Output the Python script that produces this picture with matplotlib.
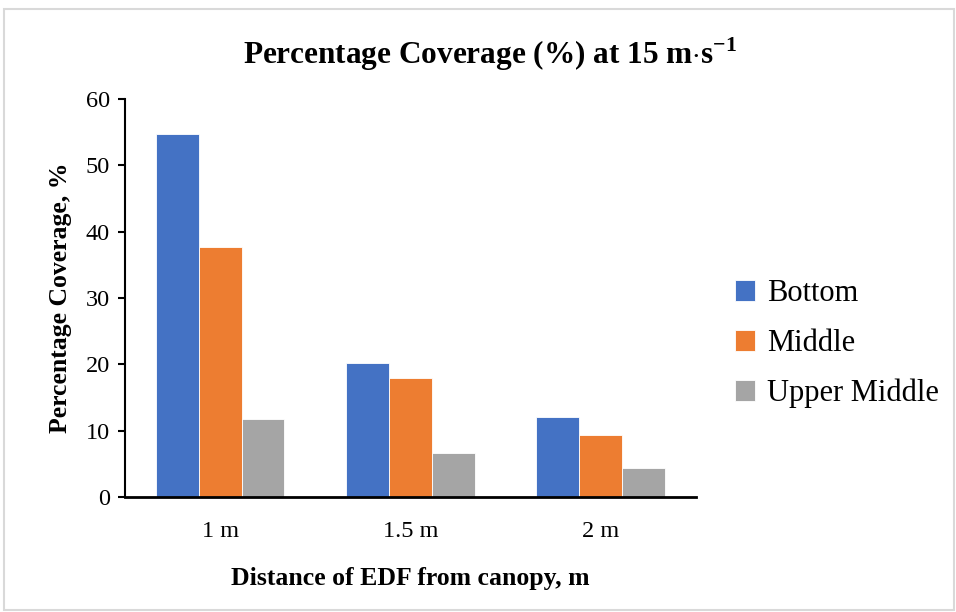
import numpy as np
import matplotlib.pyplot as plt
from matplotlib.patches import Rectangle

plt.rcParams['font.family'] = ['Liberation Serif', 'DejaVu Serif']
plt.rcParams['mathtext.fontset'] = 'custom'
plt.rcParams['mathtext.rm'] = 'Liberation Serif'
plt.rcParams['mathtext.bf'] = 'Liberation Serif:bold'

# Data
categories = ["1 m", "1.5 m", "2 m"]
series_names = ["Bottom", "Middle", "Upper Middle"]
bottom = [54.8, 20.2, 12.1]
middle = [37.7, 18.0, 9.4]
upper_middle = [11.7, 6.7, 4.4]
colors = ["#4472C4", "#ED7D31", "#A5A5A5"]

fig = plt.figure(figsize=(9.56, 6.12), dpi=100)
ax = fig.add_axes([0.1308, 0.188, 0.597, 0.650])

x = np.arange(len(categories))
w = 0.225
for i, (vals, name) in enumerate(zip([bottom, middle, upper_middle], series_names)):
    ax.bar(x + (i - 1) * w, vals, width=w, color=colors[i], label=name,
           edgecolor="white", linewidth=0.6)

ax.set_xlim(-0.5, 2.5)
ax.set_ylim(0, 60)
ax.set_yticks(range(0, 61, 10))
ax.set_xticks(x)
ax.set_xticklabels(categories)
ax.tick_params(axis="x", length=0, labelsize=17.5, pad=17)
ax.tick_params(axis="y", direction="out", length=5, width=1.5, labelsize=17.5, pad=6)
for s in ["top", "right"]:
    ax.spines[s].set_visible(False)
ax.spines["left"].set_linewidth(1.5)
ax.spines["bottom"].set_linewidth(2)

ax.set_xlabel("Distance of EDF from canopy, m", fontsize=18.5, fontweight="bold", labelpad=18)
ax.set_ylabel("Percentage Coverage, %", fontsize=18.5, fontweight="bold", labelpad=10)

fig.text(0.512, 0.912, r"Percentage Coverage (%) at 15 m$\mathbf{\cdot}$s$^{\mathbf{-1}}$",
         ha="center", va="center", fontsize=22.5, fontweight="bold")

ax.legend(loc="center left", bbox_to_anchor=(1.02, 0.385), frameon=False,
          fontsize=22, handlelength=0.65, handleheight=0.65, labelspacing=0.68,
          handletextpad=0.4)

fig.patches.append(Rectangle((0.004, 0.004), 0.994, 0.982, transform=fig.transFigure,
                             fill=False, edgecolor="#D9D9D9", linewidth=1.5))

fig.savefig("out.png", dpi=100)
